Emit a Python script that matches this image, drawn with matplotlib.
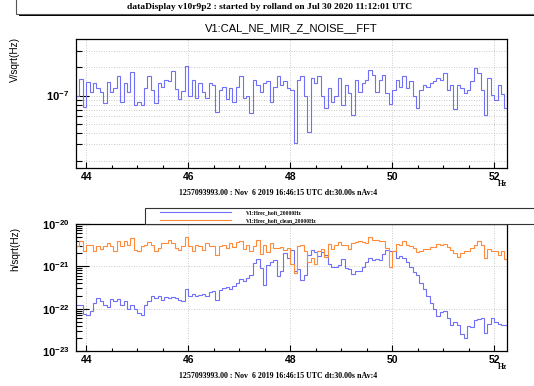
import numpy as np
import matplotlib.pyplot as plt
from matplotlib.ticker import FixedLocator, MultipleLocator, NullFormatter
from matplotlib.patches import Rectangle
from matplotlib.lines import Line2D

plt.rcParams['font.family'] = ['Liberation Sans', 'DejaVu Sans']
plt.rcParams['mathtext.fontset'] = 'custom'
plt.rcParams['mathtext.rm'] = 'Liberation Sans'
plt.rcParams['mathtext.bf'] = 'Liberation Sans:bold'

# frequency bins (Hz)
f_start = 43.8
bin_width = 1.0 / 15

# V1:CAL_NE_MIR_Z_NOISE__FFT, units of 1e-7 V/sqrt(Hz)
noise = [
    0.98, 1.5, 0.76, 1.4, 1.1, 1.35, 1.2, 1.1, 0.83, 1.38,
    1.1, 1.2, 1.6, 0.86, 1.35, 1.1, 1.8, 0.79, 0.86, 0.79,
    1.2, 1.6, 1.15, 0.83, 1.35, 1.25, 1.47, 1.42, 1.85, 1.17,
    0.92, 1.12, 2.05, 0.98, 1.45, 0.94, 1.35, 1.1, 0.94, 1.35,
    1.3, 0.67, 1.15, 1.25, 0.92,
    1.2, 0.86, 1.25, 1.6, 0.94, 0.98, 0.65, 1.47, 1.3, 1.1,
    1.35, 1.42, 0.86, 1.22, 1.6, 1.3, 1.42, 1.2, 1.15, 0.31,
    1.47, 1.6, 0.98, 0.41, 1.53, 1.35, 1.6, 0.98, 0.73, 1.2,
    0.86, 0.98, 1.53, 0.79, 1.3, 1.06, 0.62, 1.47, 1.1, 1.35,
    1.47, 1.88, 1.67,
    1.1, 1.47, 1.67, 1.06, 0.82, 1.15, 1.47, 1.25, 1.6, 1.2,
    1.42, 0.98, 0.73, 1.15, 1.3, 1.25, 1.35, 1.42, 1.53, 1.47,
    1.73, 1.15, 1.3, 0.71, 1.3, 1.2, 1.06, 1.15, 1.42, 1.96,
    1.73, 1.15, 0.62, 1.53, 1.02, 0.90, 1.3, 1.04, 0.73,
]

# V1:Hrec_hoft_20000Hz, units of 1e-22 h/sqrt(Hz)
hoft = [
    1.2, 1.24, 0.75, 0.72, 0.9, 1.36, 1.78, 1.49, 1.2, 1.13,
    1.72, 1.49, 1.72, 1.2, 1.49, 1.0, 1.2, 1.0, 0.79, 0.72,
    1.2, 1.49, 2.05, 1.78, 1.95, 1.63, 1.85, 1.78, 1.9, 1.78,
    1.63, 1.55, 2.95, 2.05, 2.25, 2.0, 2.13, 2.25, 1.95, 2.45,
    2.56, 1.63, 2.8, 3.06, 3.3,
    2.95, 3.5, 4.0, 5.1, 4.4, 5.27, 6.3, 11.9, 15.0, 9.06,
    3.67, 10.8, 12.5, 14.2, 5.77, 7.58, 20.5, 15.6, 23.5, 7.9,
    8.7, 4.81, 6.32, 18.7, 24.4, 21.5, 17.0, 21.5, 18.0, 11.2,
    9.4, 9.7, 10.8, 15.0, 9.06, 8.7, 6.6, 7.58, 7.58, 9.4,
    12.5, 15.6, 14.2,
    15.0, 14.2, 19.3, 24.4, 23.3, 23.3, 15.6, 17.0, 15.6, 12.5,
    9.4, 7.2, 6.1, 4.0, 2.95, 2.05, 1.4, 1.0, 0.66, 0.82,
    0.87, 0.62, 0.41, 0.49, 0.41, 0.26, 0.2, 0.385, 0.37, 0.55,
    0.58, 0.6, 0.27, 0.44, 0.6, 0.5, 0.44, 0.42, 0.42,
]

# V1:Hrec_hoft_clean_20000Hz, units of 1e-21 h/sqrt(Hz)
hoft_clean = [
    2.93, 3.84, 2.23, 3.2, 3.2, 2.23, 2.93, 2.55, 2.93, 3.5,
    2.93, 2.23, 3.84, 2.93, 3.84, 3.2, 4.6, 2.44, 2.23, 2.93,
    3.1, 3.7, 3.2, 2.23, 2.67, 3.5, 3.5, 4.2, 3.5, 2.67,
    2.44, 2.93, 5.0, 2.93, 2.23, 3.2, 2.93, 2.44, 3.5, 2.93,
    2.93, 1.86, 2.93, 3.2, 2.67,
    3.5, 2.8, 3.7, 3.84, 2.55, 3.1, 2.23, 2.93, 4.2, 1.94,
    3.1, 2.15, 3.5, 2.67, 2.67, 2.8, 2.44, 2.67, 1.12, 0.68,
    2.93, 3.2, 2.23, 1.26, 1.55, 1.13, 2.23, 2.55, 1.62, 3.3,
    2.55, 3.2, 3.7, 3.1, 3.2, 2.55, 3.5, 3.7, 4.0, 3.7,
    3.5, 5.0, 4.2,
    4.2, 4.0, 3.84, 2.67, 0.95, 2.23, 3.3, 3.2, 4.0, 3.2,
    2.93, 2.67, 2.15, 2.33, 2.55, 2.55, 2.8, 2.8, 3.3, 3.2,
    3.3, 2.8, 2.44, 2.05, 1.62, 2.05, 2.23, 2.33, 2.67, 3.2,
    3.84, 3.2, 1.55, 2.55, 2.23, 2.23, 1.8, 2.23, 1.5,
]

header = "dataDisplay v10r9p2 : started by rolland on Jul 30 2020 11:12:01 UTC"
info = "1257093993.00 : Nov  6 2019 16:46:15 UTC dt:30.00s nAv:4"
labels = ["V1:Hrec_hoft_20000Hz", "V1:Hrec_hoft_clean_20000Hz"]

blue = '#6f6ff7'
orange = '#ff8a3a'
grid_col = '#b9b9b9'

W, H = 534, 386


def fx(px):
    return px / W


def fy(py):
    return 1 - py / H


edges = f_start + bin_width * np.arange(len(noise) + 1)
noise_v = np.array(noise) * 1e-7
hoft_v = np.array(hoft) * 1e-22
clean_v = np.array(hoft_clean) * 1e-21

fig = plt.figure(figsize=(W / 100, H / 100), dpi=100)

# header pave with shadow
fig.add_artist(Rectangle((fx(19), fy(15.5)), 1.0, fy(2) - fy(15.5),
                         transform=fig.transFigure, facecolor='black',
                         edgecolor='none', zorder=1))
fig.add_artist(Rectangle((fx(16), fy(13.5)), 1.0, fy(-2) - fy(13.5),
                         transform=fig.transFigure, facecolor='white',
                         edgecolor='#555555', lw=0.8, zorder=2))
fig.text(fx(270), fy(7), header, family='Liberation Serif', weight='bold',
         size=6.8, ha='center', va='center', zorder=3)


def style_axes(ax):
    ax.set_xlim(edges[0], 52.25)
    ax.xaxis.set_major_locator(MultipleLocator(2))
    ax.xaxis.set_minor_locator(MultipleLocator(0.5))
    ax.tick_params(axis='x', which='major', direction='in', length=4,
                   width=0.8, labelsize=7.5, pad=3, top=False)
    ax.tick_params(axis='x', which='minor', direction='in', length=2,
                   width=0.8, top=False)
    ax.tick_params(axis='y', which='major', direction='in', length=9,
                   width=0.8, labelsize=8, pad=5, right=False)
    ax.tick_params(axis='y', which='minor', direction='in', length=4.5,
                   width=0.8, right=False)
    for lab in ax.get_xticklabels():
        lab.set_fontweight('bold')
    for sp in ax.spines.values():
        sp.set_linewidth(0.9)
    ax.grid(True, which='major', axis='x', color=grid_col, ls=(0, (1, 2)),
            lw=0.6)
    ax.set_axisbelow(True)


def log_label(v, pos=None):
    return r'$\mathbf{10^{%d}}$' % int(round(np.log10(v)))


# top pad: mirror noise
ax1 = fig.add_axes([fx(76), fy(167.7), fx(507) - fx(76), fy(39.3) - fy(167.7)])
ax1.stairs(noise_v, edges, color=blue, lw=0.8, baseline=None)
ax1.set_yscale('log')
ax1.set_ylim(1.69e-8, 4e-7)
ax1.yaxis.set_major_locator(FixedLocator([1e-7]))
ax1.yaxis.set_minor_locator(FixedLocator(
    [k * 1e-8 for k in range(2, 10)] + [2e-7, 3e-7]))
ax1.yaxis.set_major_formatter(log_label)
ax1.yaxis.set_minor_formatter(NullFormatter())
style_axes(ax1)
ax1.grid(True, which='both', axis='y', color=grid_col, ls=(0, (1, 2)), lw=0.6)
fig.text(fx(291), fy(28), "V1:CAL_NE_MIR_Z_NOISE__FFT", size=8,
         ha='center', va='center')
fig.text(fx(15), fy(37), "V/sqrt(Hz)", size=7.2, rotation=90,
         ha='center', va='top')
fig.text(fx(503), fy(184), "Hz", family='Liberation Serif', weight='bold',
         size=5.5, ha='center', va='center')
fig.text(fx(278), fy(193), info, family='Liberation Serif', weight='bold',
         size=5.7, ha='center', va='center')

# bottom pad: strain spectra
ax2 = fig.add_axes([fx(76), fy(351.3), fx(507) - fx(76), fy(223.7) - fy(351.3)])
ax2.stairs(hoft_v, edges, color=blue, lw=0.8, baseline=None)
ax2.stairs(clean_v, edges, color=orange, lw=0.8, baseline=None)
ax2.set_yscale('log')
ax2.set_ylim(1e-23, 1e-20)
ax2.yaxis.set_major_locator(FixedLocator([1e-23, 1e-22, 1e-21, 1e-20]))
ax2.yaxis.set_minor_locator(FixedLocator(
    [k * 10.0 ** e for e in (-23, -22, -21) for k in range(2, 10)]))
ax2.yaxis.set_major_formatter(log_label)
ax2.yaxis.set_minor_formatter(NullFormatter())
style_axes(ax2)
ax2.grid(True, which='major', axis='y', color=grid_col, ls=(0, (1, 2)), lw=0.6)
fig.text(fx(15), fy(227), "h/sqrt(Hz)", size=7.2, rotation=90,
         ha='center', va='top')
fig.text(fx(503), fy(367), "Hz", family='Liberation Serif', weight='bold',
         size=5.5, ha='center', va='center')
fig.text(fx(278), fy(376), info, family='Liberation Serif', weight='bold',
         size=5.7, ha='center', va='center')

# legend pave
fig.add_artist(Rectangle((fx(145), fy(224)), 1.0, fy(208) - fy(224),
                         transform=fig.transFigure, facecolor='white',
                         edgecolor='#333333', lw=0.8, zorder=5))
for row_y, col, lab in zip([212.3, 220.3], [blue, orange], labels):
    fig.add_artist(Line2D([fx(160), fx(231)], [fy(row_y), fy(row_y)],
                          transform=fig.transFigure, color=col, lw=0.8,
                          zorder=6))
    fig.text(fx(246), fy(row_y), lab, family='Liberation Serif',
             weight='bold', size=4, ha='left', va='center', zorder=6)

fig.savefig('out.png', dpi=100)
